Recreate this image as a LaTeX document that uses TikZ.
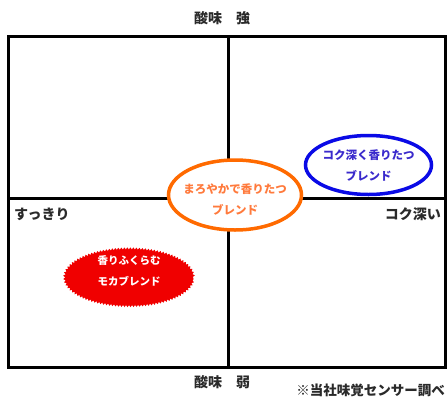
\documentclass[tikz,border=0pt]{standalone}
\usepackage{fontspec}
\setmainfont{Noto Sans CJK JP}
\usetikzlibrary{shapes.geometric,decorations.pathmorphing}
\definecolor{gridline}{HTML}{000000}
\definecolor{mildorange}{HTML}{FF6A00}
\definecolor{mildtext}{HTML}{FF7A3C}
\definecolor{richblue}{HTML}{0A0AE6}
\definecolor{richtext}{HTML}{3A2ACC}
\definecolor{mochared}{HTML}{F00000}
\definecolor{labeltext}{HTML}{2A2A2A}
\tikzset{
  axislabel/.style={font=\bfseries\fontsize{14}{16}\selectfont, text=labeltext, inner sep=0pt},
  blendtext/.style={font=\bfseries\fontsize{11.5}{21}\selectfont, align=center},
  blend/.style={ellipse, inner sep=0pt, line width=3.5pt},
}
\begin{document}
\begin{tikzpicture}[x=1pt,y=-1pt]
\useasboundingbox[fill=white] (0,0) rectangle (447,399);
% quadrant frame
\coordinate (tl) at (8.5,36.5);
\coordinate (br) at (445,367.5);
\coordinate (top) at (228,36.5);
\coordinate (bottom) at (228,367.5);
\coordinate (left) at (8.5,198);
\coordinate (right) at (445,198);
\draw[line width=3pt, color=gridline] (tl) rectangle (br);
\draw[line width=3pt, color=gridline] (top) -- (bottom);
\draw[line width=3pt, color=gridline] (left) -- (right);
% axis labels
\node[axislabel] (acidhigh) at (222,18) {酸味　強};
\node[axislabel] (acidlow) at (222,382) {酸味　弱};
\node[axislabel, anchor=west] (clean) at (14,214) {すっきり};
\node[axislabel, anchor=east] (deep) at (441,214) {コク深い};
\node[axislabel, anchor=east, font=\bfseries\fontsize{13.5}{15}\selectfont] (note) at (445,390) {※当社味覚センサー調べ};
% blends
\node[blend, draw=richblue, fill=white, minimum width=126pt, minimum height=59pt] (rich) at (368.5,165) {};
\node[blendtext, text=richtext] (richlabel) at (rich.center) {コク深く香りたつ\\ブレンド};
\node[blend, draw=mildorange, fill=white, minimum width=133pt, minimum height=70pt] (mild) at (235,195) {};
\node[blendtext, text=mildtext] (mildlabel) at ([yshift=-4pt]mild.center) {まろやかで香りたつ\\ブレンド};
\node[ellipse, inner sep=0pt, fill=mochared, draw=mochared, line width=1pt,
      minimum width=128pt, minimum height=56pt,
      decorate, decoration={snake, amplitude=1pt, segment length=3pt}] (mocha) at (129,278) {};
\node[blendtext, text=white, font=\bfseries\fontsize{10.5}{21}\selectfont] (mochalabel) at ([yshift=7pt]mocha.center) {香りふくらむ\\モカブレンド};
\end{tikzpicture}
\end{document}
